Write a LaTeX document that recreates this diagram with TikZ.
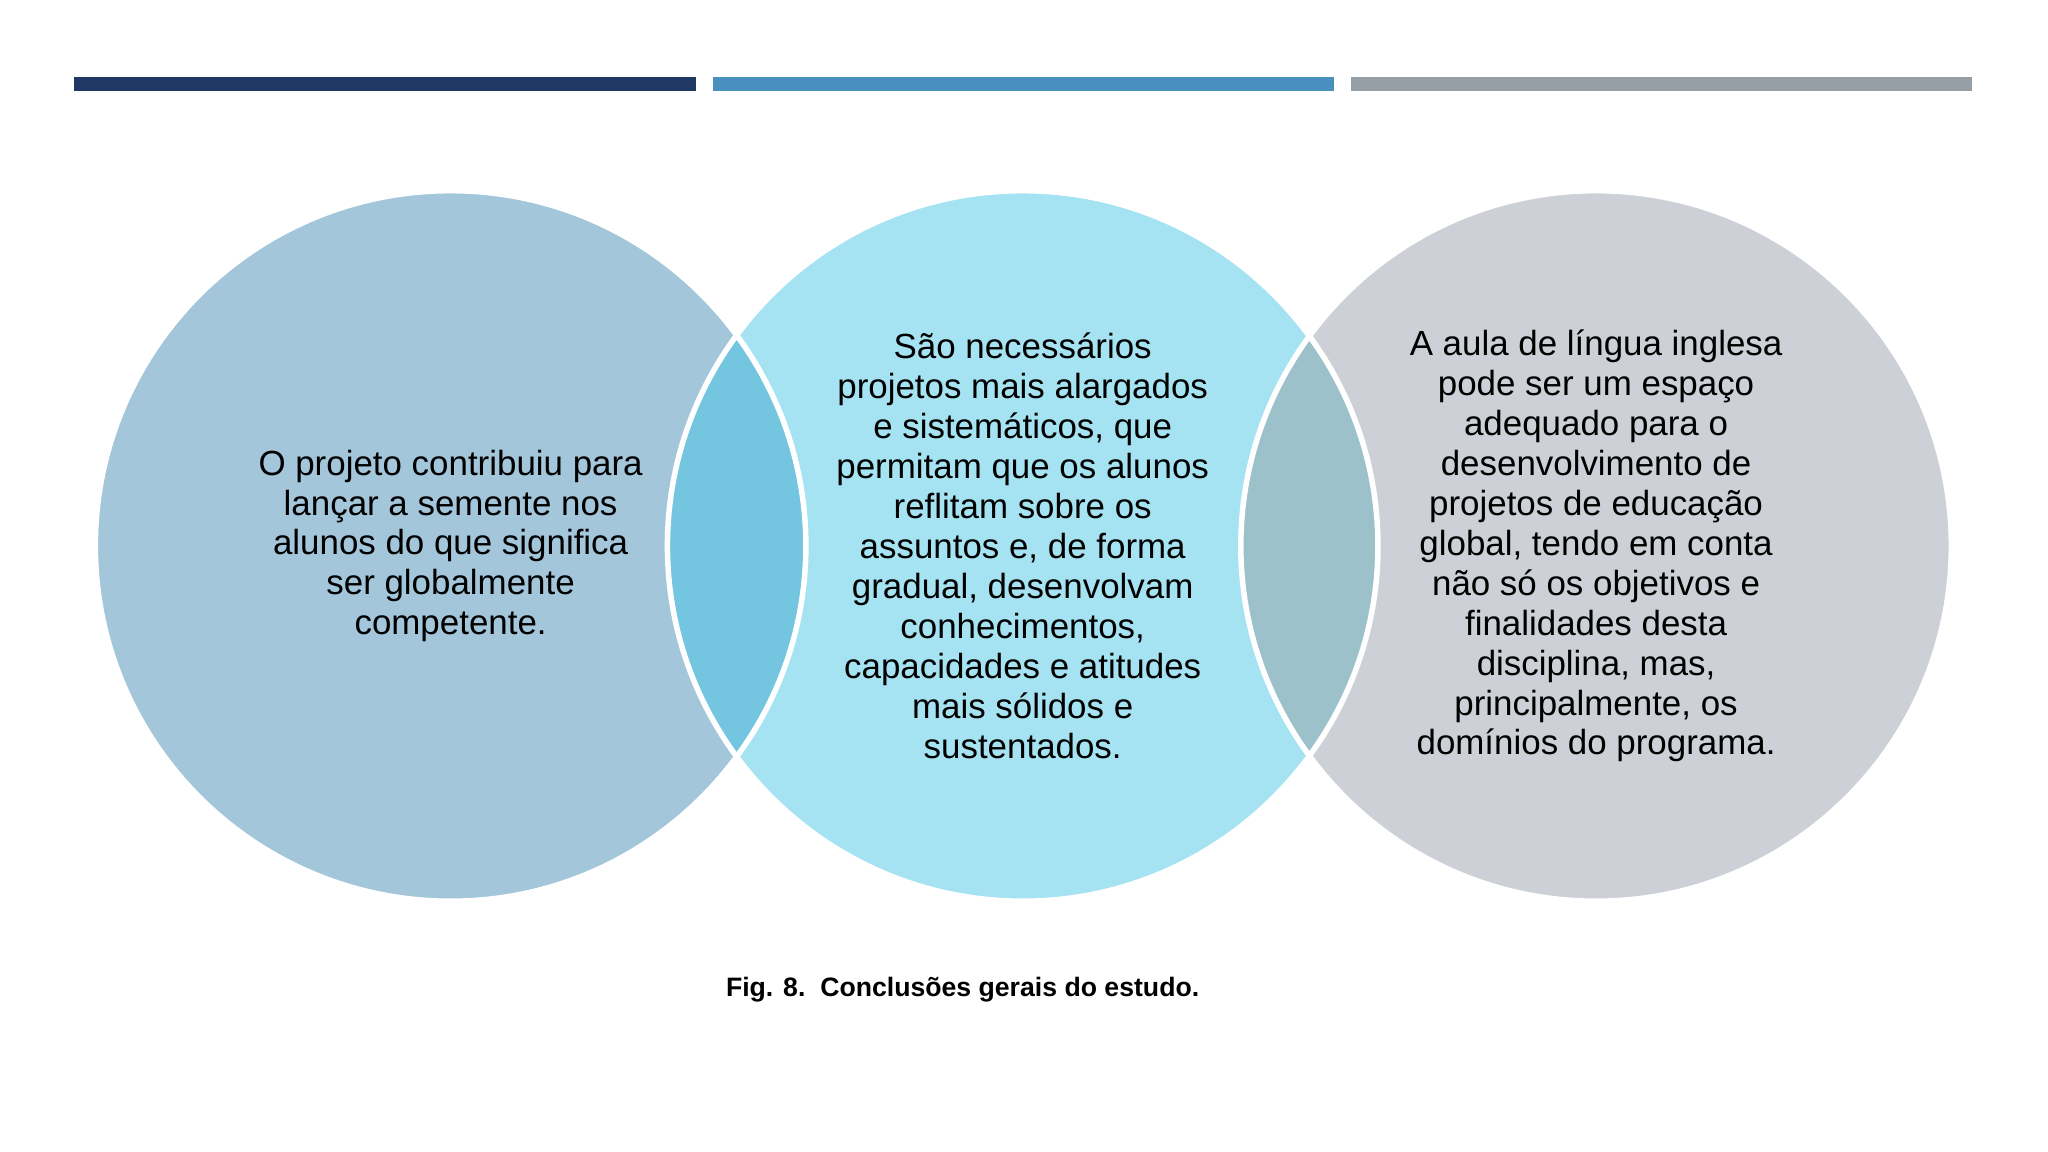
\documentclass[tikz,border=0pt]{standalone}
\usepackage{fontspec}
\setmainfont{Liberation Sans}
\definecolor{cA}{HTML}{A3C6DB}
\definecolor{cB}{HTML}{A5E3F2}
\definecolor{cC}{HTML}{CDD0D6}
\definecolor{oAB}{HTML}{74C5E0}
\definecolor{oBC}{HTML}{9DC1CB}
\definecolor{barA}{HTML}{1F3864}
\definecolor{barB}{HTML}{4A90BE}
\definecolor{barC}{HTML}{969FA5}
\tikzset{ctext/.style={align=center,font=\fontsize{7.6}{8.7}\selectfont,text=black},
bar/.style={minimum height=0.11cm,inner sep=0,anchor=west}}
\begin{document}
\begin{tikzpicture}[x=0.01cm,y=-0.01cm]
\useasboundingbox[fill=white] (0,0) rectangle (1568,882);
\fill[barA] (57,59) rectangle (533,70);
\fill[barB] (546,59) rectangle (1021,70);
\fill[barC] (1034,59) rectangle (1510,70);
\fill[cA] (345,418) circle (272);
\fill[cB] (783,418) circle (272);
\fill[cC] (1222,418) circle (272);
\begin{scope}\clip (345,418) circle (272); \fill[oAB] (783,418) circle (272);\end{scope}
\begin{scope}\clip (783,418) circle (272); \fill[oBC] (1222,418) circle (272);\end{scope}
\draw[white,line width=1.2pt] (345,418) circle (272) (783,418) circle (272) (1222,418) circle (272);
\node[ctext] (t1) at (345,418) {O projeto contribuiu para\\lançar a semente nos\\alunos do que significa\\ser globalmente\\competente.};
\node[ctext] (t2) at (783,418) {São necessários\\projetos mais alargados\\e sistemáticos, que\\permitam que os alunos\\reflitam sobre os\\assuntos e, de forma\\gradual, desenvolvam\\conhecimentos,\\capacidades e atitudes\\mais sólidos e\\sustentados.};
\node[ctext] (t3) at (1222,418) {A aula de língua inglesa\\pode ser um espaço\\adequado para o\\desenvolvimento de\\projetos de educação\\global, tendo em conta\\não só os objetivos e\\finalidades desta\\disciplina, mas,\\principalmente, os\\domínios do programa.};
\node[font=\fontsize{5.8}{7}\selectfont\bfseries] (cap) at (737,758) {Fig. 8.\ \ Conclusões gerais do estudo.};
\end{tikzpicture}
\end{document}
